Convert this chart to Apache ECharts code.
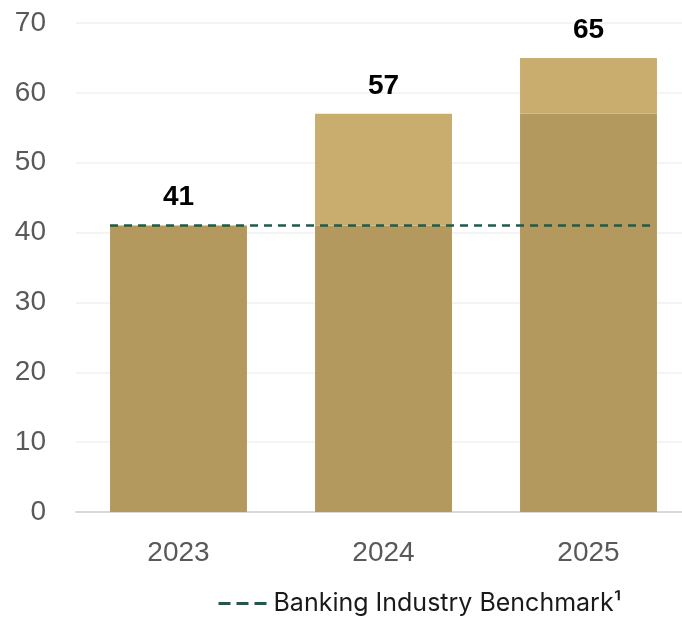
<!DOCTYPE html>
<html>
<head>
<meta charset="utf-8">
<script src="https://cdn.jsdelivr.net/npm/echarts@6/dist/echarts.min.js"></script>
<style>
  html, body { margin: 0; padding: 0; background: #ffffff; }
  #chart { width: 682px; height: 617px; }
</style>
</head>
<body>
<div id="chart"></div>
<script>
// Years on the category axis
const years = ['2023', '2024', '2025'];
// Yearly totals shown above each bar
const totals = [41, 57, 65];
// Level carried over from the prior year (darker lower segment)
const carried = [41, 41, 57];
// Industry benchmark level
const benchmark = 41;
// Y axis ticks
const yMin = 0, yMax = 70, yStep = 10;

// Growth on top of the carried level (lighter upper segment)
const growth = totals.map((t, i) => t - carried[i]);

// Bar width as a share of each category slot
const BAR_RATIO = 0.668;
const half = BAR_RATIO / 2;
const benchLine = [
  [0 - half, benchmark],
  [years.length - 1 + half - 0.02, benchmark]
];

const numFont = '"Liberation Sans", Arial, sans-serif';

const chart = echarts.init(document.getElementById('chart'), null, { renderer: 'canvas' });
chart.setOption({
  animation: false,
  backgroundColor: '#ffffff',
  // plot runs slightly past the right edge of the canvas
  grid: { left: 76, width: 615, top: 23, height: 489, containLabel: false, outerBoundsMode: 'none' },
  xAxis: [
    {
      type: 'category',
      data: years,
      axisTick: { show: false },
      axisLine: { show: true, lineStyle: { color: '#d9d9d9', width: 2 } },
      axisLabel: { color: '#595959', fontSize: 28, fontFamily: numFont, margin: 27 }
    },
    {
      type: 'value',
      min: -0.5,
      max: years.length - 0.5,
      show: false
    }
  ],
  yAxis: {
    type: 'value',
    min: yMin,
    max: yMax,
    interval: yStep,
    axisLine: { show: false },
    axisTick: { show: false },
    splitLine: { lineStyle: { color: '#f0f0f0', width: 1.5 } },
    axisLabel: { color: '#595959', fontSize: 28, fontFamily: numFont, margin: 30 }
  },
  legend: {
    left: 212,
    top: 586,
    itemWidth: 50,
    itemHeight: 14,
    itemGap: 9,
    data: ['Banking Industry Benchmark¹'],
    textStyle: { color: '#1a1a1a', fontSize: 25, fontFamily: 'Inter, "Open Sans", sans-serif' },
    itemStyle: { opacity: 0 },
    lineStyle: { type: [12, 6], width: 3 }
  },
  series: [
    {
      name: 'Carried',
      type: 'bar',
      stack: 'total',
      xAxisIndex: 0,
      data: carried,
      barCategoryGap: ((1 - BAR_RATIO) * 100).toFixed(1) + '%',
      itemStyle: { color: '#b3995e' }
    },
    {
      name: 'Growth',
      type: 'bar',
      stack: 'total',
      xAxisIndex: 0,
      data: growth,
      itemStyle: { color: '#c9ad6e' },
      label: {
        show: true,
        position: 'top',
        distance: 14,
        formatter: p => String(totals[p.dataIndex]),
        color: '#000000',
        fontSize: 28,
        fontWeight: 'bold',
        fontFamily: numFont
      }
    },
    {
      name: 'Banking Industry Benchmark¹',
      type: 'line',
      xAxisIndex: 1,
      data: benchLine,
      symbol: 'none',
      z: 5,
      lineStyle: { color: '#1b5c50', width: 2.5, type: [8, 6] }
    }
  ]
});
</script>
</body>
</html>
